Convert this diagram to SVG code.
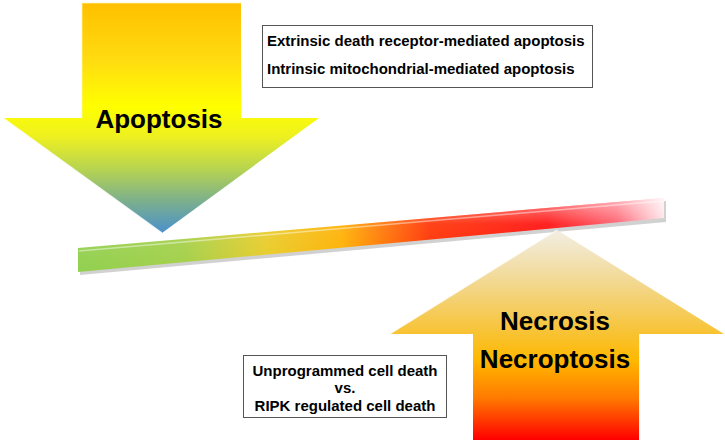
<svg xmlns="http://www.w3.org/2000/svg" width="725" height="443" viewBox="0 0 725 443">
<defs>
<linearGradient id="gTop" gradientUnits="userSpaceOnUse" x1="0" y1="3" x2="0" y2="233">
<stop offset="0" stop-color="#ffc000"/>
<stop offset="0.25" stop-color="#ffdc10"/>
<stop offset="0.45" stop-color="#ffff00"/>
<stop offset="0.58" stop-color="#eef020"/>
<stop offset="0.72" stop-color="#b8d450"/>
<stop offset="0.86" stop-color="#7cb08c"/>
<stop offset="1" stop-color="#4a90cc"/>
</linearGradient>
<linearGradient id="gBot" gradientUnits="userSpaceOnUse" x1="0" y1="230" x2="0" y2="440">
<stop offset="0" stop-color="#f2eee4"/>
<stop offset="0.25" stop-color="#f2d890"/>
<stop offset="0.5" stop-color="#f8c230"/>
<stop offset="0.62" stop-color="#ffb800"/>
<stop offset="0.8" stop-color="#ff7a00"/>
<stop offset="1" stop-color="#ff0000"/>
</linearGradient>
<linearGradient id="gBar" gradientUnits="userSpaceOnUse" x1="78" y1="260" x2="664" y2="208">
<stop offset="0" stop-color="#92d050"/>
<stop offset="0.18" stop-color="#a4d04a"/>
<stop offset="0.32" stop-color="#e8cc28"/>
<stop offset="0.45" stop-color="#ffb000"/>
<stop offset="0.6" stop-color="#ff3000"/>
<stop offset="0.8" stop-color="#ff0a0a"/>
<stop offset="0.92" stop-color="#ff5a6a"/>
<stop offset="1" stop-color="#ffe4e8"/>
</linearGradient>
<linearGradient id="gHi" gradientUnits="objectBoundingBox" x1="0" y1="0" x2="0" y2="1">
<stop offset="0" stop-color="#ffffff" stop-opacity="0.55"/>
<stop offset="0.35" stop-color="#ffffff" stop-opacity="0.1"/>
<stop offset="1" stop-color="#ffffff" stop-opacity="0"/>
</linearGradient>
<style>
.big{font-family:"Liberation Sans",Arial,sans-serif;font-weight:bold;font-size:26px;fill:#000;text-anchor:middle}
.sm{font-family:"Liberation Sans",Arial,sans-serif;font-weight:bold;font-size:15px;fill:#000}
.box{fill:#fff;stroke:#555;stroke-width:1}
</style>
</defs>

<g id="apoptosis-arrow">
<polygon points="82,3 241,3 241,118 319,118 162,233 3,118 82,118" fill="url(#gTop)"/>
<polyline points="3,118 162,233" fill="none" stroke="#ffffff" stroke-width="1.5" opacity="0.8"/>
<polyline points="82,118 82,3 241,3" fill="none" stroke="#fff6b0" stroke-width="1" opacity="0.7"/>
<text class="big" x="159" y="128">Apoptosis</text>
</g>

<g id="balance-bar">
<polygon points="80,251 666,201 666,222 80,275" fill="#999" opacity="0.45"/>
<polygon points="78,248 664,198 664,218 78,272" fill="url(#gBar)"/>
<polygon points="78,248 664,198 664,218 78,272" fill="url(#gHi)"/>
<line x1="79" y1="251" x2="663" y2="201" stroke="#ffffff" stroke-width="1.5" opacity="0.45"/>
</g>

<g id="necrosis-arrow">
<polygon points="557,230 724,334 639,334 639,440 473,440 473,334 390,334" fill="url(#gBot)"/>
<polyline points="390,334 557,230" fill="none" stroke="#ffffff" stroke-width="1.2" opacity="0.6"/>
<line x1="639.5" y1="334" x2="639.5" y2="440" stroke="#fff4c0" stroke-width="1" opacity="0.7"/>
<text class="big" x="555" y="330">Necrosis</text>
<text class="big" x="555" y="368">Necroptosis</text>
</g>

<g id="apoptosis-types">
<rect class="box" x="262.5" y="25.5" width="330" height="62"/>
<text class="sm" x="267" y="46">Extrinsic death receptor-mediated apoptosis</text>
<text class="sm" x="267" y="74">Intrinsic mitochondrial-mediated apoptosis</text>
</g>

<g id="necrosis-types">
<rect class="box" x="243.5" y="355.5" width="203" height="62"/>
<text class="sm" x="345" y="376" text-anchor="middle">Unprogrammed cell death</text>
<text class="sm" x="345" y="393" text-anchor="middle">vs.</text>
<text class="sm" x="345" y="411" text-anchor="middle">RIPK regulated cell death</text>
</g>
</svg>
